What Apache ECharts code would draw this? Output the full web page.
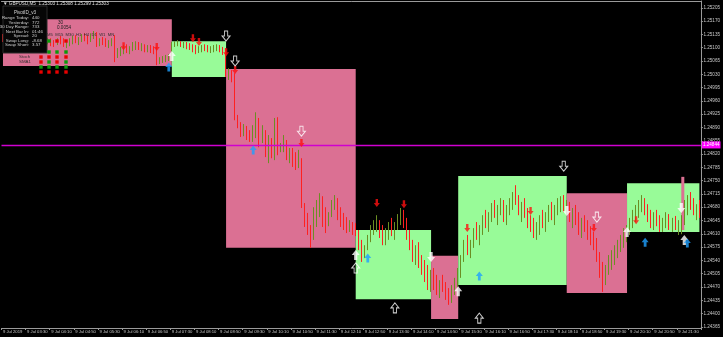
<!DOCTYPE html>
<html><head><meta charset="utf-8">
<script src="https://cdn.jsdelivr.net/npm/echarts@6.0.0/dist/echarts.min.js"></script>
<style>html,body{margin:0;padding:0;background:#000;}#c{width:723px;height:337px;}</style>
</head><body><div id="c"></div>
<script>
// ---------- data ----------
const timeLabels = ['9 Jul 2019','9 Jul 03:30','9 Jul 04:10','9 Jul 04:50','9 Jul 05:30','9 Jul 06:10','9 Jul 06:50','9 Jul 07:30','9 Jul 08:10','9 Jul 08:50','9 Jul 09:30','9 Jul 10:10','9 Jul 10:50','9 Jul 11:30','9 Jul 12:10','9 Jul 12:50','9 Jul 13:30','9 Jul 14:10','9 Jul 14:50','9 Jul 15:30','9 Jul 16:10','9 Jul 16:50','9 Jul 17:30','9 Jul 18:10','9 Jul 18:50','9 Jul 19:30','9 Jul 20:10','9 Jul 20:50','9 Jul 21:30'];
const priceTicks = [1.24365,1.24400,1.24435,1.24470,1.24505,1.24540,1.24575,1.24610,1.24645,1.24680,1.24715,1.24750,1.24785,1.24820,1.24855,1.24890,1.24925,1.24960,1.24995,1.25030,1.25065,1.25100,1.25135,1.25170,1.25205];
const yMin = 1.24362, yMax = 1.25223;
const currentPrice = 1.24844;
const firstOpen = 1.25130;
const closes = [1.25125,1.25131,1.25120,1.25115,1.25123,1.25133,1.25138,1.25128,1.25120,1.25112,1.25117,1.25125,1.25131,1.25123,1.25115,1.25120,
1.25115,1.25109,1.25120,1.25117,1.25112,1.25115,1.25120,1.25125,1.25117,1.25123,1.25131,1.25125,1.25120,1.25133,1.25136,1.25109,1.25120,1.25115,1.25109,1.25115,1.25117,
1.25081,1.25088,1.25094,1.25099,1.25094,1.25102,1.25107,1.25109,1.25104,1.25107,1.25099,1.25102,1.25096,1.25094,1.25062,1.25067,1.25073,1.25075,1.25078,
1.25109,1.25112,1.25115,1.25109,1.25112,1.25107,1.25104,1.25096,1.25094,1.25099,1.25102,1.25099,1.25096,1.25099,1.25102,1.25104,1.25094,1.25088,1.25031,1.25036,1.25025,
1.24915,1.24896,1.24883,1.24891,1.24873,1.24867,1.24888,1.24915,1.24857,1.24883,1.24831,1.24857,1.24825,1.24896,1.24836,1.24841,1.24857,1.24817,1.24831,1.24804,1.24796,1.24799,
1.24686,1.24641,1.24620,1.24599,1.24667,1.24686,1.24704,1.24646,1.24630,1.24662,1.24688,1.24699,1.24662,1.24641,1.24630,1.24620,1.24636,1.24625,1.24620,
1.24580,1.24554,1.24573,1.24599,1.24620,1.24625,1.24633,1.24612,1.24599,1.24615,1.24630,1.24620,1.24633,1.24652,1.24667,1.24641,1.24607,1.24580,1.24554,1.24567,1.24536,1.24520,1.24502,1.24480,1.24494,
1.24475,1.24462,1.24478,1.24467,1.24446,1.24436,1.24462,1.24483,1.24509,
1.24546,1.24580,1.24567,1.24588,1.24615,1.24604,1.24625,1.24646,1.24636,1.24659,1.24678,1.24667,1.24673,1.24686,1.24659,1.24678,1.24699,1.24709,1.24699,1.24673,1.24686,1.24662,1.24646,1.24641,1.24620,1.24630,1.24652,1.24641,1.24659,1.24673,1.24662,1.24678,1.24688,1.24699,1.24683,1.24688,
1.24659,1.24667,1.24646,1.24625,1.24641,1.24630,1.24615,1.24599,1.24588,1.24546,1.24509,1.24488,1.24520,1.24536,1.24552,1.24567,1.24583,1.24594,1.24615,1.24625,
1.24641,1.24662,1.24673,1.24683,1.24699,1.24678,1.24659,1.24646,1.24657,1.24641,1.24633,1.24641,1.24652,1.24633,1.24636,1.24625,1.24630,1.24646,1.24686,1.24699,1.24686,1.24673,1.24678,1.24667];
const highs = [1.25136,1.25138,1.25133,1.25125,1.25128,1.25138,1.25144,1.25141,1.25131,1.25125,1.25123,1.25131,1.25136,1.25133,1.25128,1.25125,
1.25125,1.25120,1.25125,1.25131,1.25125,1.25120,1.25125,1.25131,1.25133,1.25128,1.25136,1.25138,1.25133,1.25138,1.25144,1.25141,1.25125,1.25128,1.25125,1.25120,1.25125,
1.25133,1.25099,1.25102,1.25107,1.25109,1.25104,1.25115,1.25117,1.25115,1.25112,1.25109,1.25107,1.25107,1.25104,1.25102,1.25075,1.25078,1.25081,1.25083,
1.25115,1.25117,1.25120,1.25117,1.25115,1.25115,1.25112,1.25109,1.25107,1.25104,1.25107,1.25109,1.25107,1.25104,1.25107,1.25109,1.25107,1.25102,1.25099,1.25046,1.25041,
1.25033,1.24923,1.24904,1.24899,1.24894,1.24883,1.24896,1.24930,1.24915,1.24896,1.24883,1.24870,1.24862,1.24915,1.24917,1.24849,1.24870,1.24857,1.24836,1.24836,1.24825,1.24831,
1.24809,1.24691,1.24665,1.24633,1.24680,1.24699,1.24717,1.24709,1.24680,1.24667,1.24699,1.24712,1.24704,1.24680,1.24665,1.24654,1.24646,1.24641,1.24638,
1.24615,1.24594,1.24580,1.24607,1.24633,1.24646,1.24659,1.24646,1.24633,1.24625,1.24641,1.24652,1.24641,1.24662,1.24678,1.24673,1.24652,1.24620,1.24594,1.24580,1.24588,1.24554,1.24541,1.24528,1.24515,
1.24520,1.24502,1.24488,1.24502,1.24483,1.24467,1.24475,1.24494,1.24520,
1.24554,1.24594,1.24607,1.24594,1.24625,1.24641,1.24633,1.24659,1.24673,1.24667,1.24691,1.24699,1.24686,1.24704,1.24699,1.24686,1.24704,1.24720,1.24738,1.24712,1.24694,1.24704,1.24678,1.24659,1.24652,1.24641,1.24659,1.24673,1.24667,1.24686,1.24694,1.24686,1.24704,1.24709,1.24712,1.24699,
1.24694,1.24678,1.24686,1.24667,1.24652,1.24659,1.24646,1.24630,1.24615,1.24599,1.24562,1.24536,1.24528,1.24554,1.24567,1.24580,1.24594,1.24607,1.24625,1.24633,
1.24652,1.24673,1.24686,1.24699,1.24712,1.24704,1.24688,1.24673,1.24667,1.24673,1.24659,1.24652,1.24667,1.24662,1.24652,1.24657,1.24646,1.24659,1.24699,1.24712,1.24720,1.24704,1.24688,1.24699];
const lows = [1.25115,1.25120,1.25115,1.25107,1.25109,1.25120,1.25128,1.25123,1.25115,1.25107,1.25107,1.25115,1.25120,1.25117,1.25109,1.25109,
1.25104,1.25102,1.25107,1.25109,1.25102,1.25099,1.25104,1.25109,1.25112,1.25107,1.25115,1.25117,1.25109,1.25115,1.25123,1.25102,1.25104,1.25107,1.25102,1.25099,1.25104,
1.25062,1.25073,1.25078,1.25083,1.25086,1.25083,1.25091,1.25094,1.25094,1.25091,1.25088,1.25088,1.25086,1.25083,1.25054,1.25057,1.25060,1.25062,1.25065,
1.25067,1.25102,1.25104,1.25102,1.25099,1.25096,1.25094,1.25088,1.25083,1.25086,1.25088,1.25091,1.25088,1.25086,1.25088,1.25091,1.25088,1.25081,1.25023,1.25015,1.25009,
1.24909,1.24888,1.24865,1.24867,1.24857,1.24852,1.24852,1.24862,1.24838,1.24849,1.24812,1.24796,1.24809,1.24804,1.24817,1.24825,1.24825,1.24804,1.24796,1.24786,1.24778,1.24783,
1.24678,1.24628,1.24607,1.24573,1.24594,1.24628,1.24654,1.24628,1.24612,1.24633,1.24654,1.24673,1.24646,1.24628,1.24620,1.24612,1.24615,1.24607,1.24604,
1.24567,1.24536,1.24546,1.24567,1.24588,1.24607,1.24615,1.24599,1.24580,1.24580,1.24594,1.24604,1.24594,1.24620,1.24633,1.24625,1.24594,1.24567,1.24536,1.24528,1.24520,1.24502,1.24483,1.24462,1.24457,
1.24462,1.24449,1.24441,1.24457,1.24436,1.24423,1.24428,1.24449,1.24467,
1.24494,1.24536,1.24554,1.24546,1.24573,1.24594,1.24580,1.24607,1.24625,1.24615,1.24641,1.24652,1.24633,1.24659,1.24641,1.24633,1.24659,1.24673,1.24686,1.24659,1.24641,1.24652,1.24625,1.24615,1.24599,1.24594,1.24607,1.24625,1.24615,1.24641,1.24646,1.24633,1.24659,1.24667,1.24667,1.24659,
1.24641,1.24625,1.24633,1.24607,1.24599,1.24615,1.24594,1.24580,1.24567,1.24536,1.24494,1.24457,1.24475,1.24502,1.24515,1.24528,1.24546,1.24562,1.24573,1.24588,
1.24607,1.24625,1.24641,1.24652,1.24667,1.24659,1.24641,1.24625,1.24620,1.24630,1.24615,1.24615,1.24625,1.24620,1.24615,1.24620,1.24607,1.24609,1.24633,1.24659,1.24673,1.24659,1.24646,1.24652];

// range boxes: start bar, end bar, top price, bottom price, type
const boxStart = [0, 56, 74, 117, 142, 151, 187, 207, 225];
const boxEnd   = [56, 74, 117, 142, 151, 187, 207, 231, 226];
const boxHigh  = [1.25175, 1.25117, 1.25044, 1.24620, 1.24552, 1.24762, 1.24717, 1.24743, 1.24760];
const boxLow   = [1.25052, 1.25023, 1.24573, 1.24438, 1.24386, 1.24475, 1.24454, 1.24615, 1.24620];
const boxType  = ['bear','bull','bear','bull','bear','bull','bear','bull','bear'];

// signal arrows: [bar, price]
const redDown = [[40,1.25104],[51,1.25102],[63,1.25125],[65,1.25115],[74,1.25088],[77,1.25041],[99,1.24849],[124,1.24691],[133,1.24688],[154,1.24625],[175,1.24670],[196,1.24625],[210,1.24646]];
const hollowDown = [[74,1.25131],[77,1.25065],[99,1.24880],[186,1.24788],[197,1.24654]];
const whiteDown = [[142,1.24549],[187,1.24670],[225,1.24678]];
const whiteUp = [[56,1.25078],[117,1.24554],[151,1.24459],[207,1.24615],[226,1.24594]];
const blueUp = [[55,1.25049],[83,1.24831],[121,1.24546],[158,1.24499],[213,1.24588],[227,1.24586]];
const hollowUp = [[117,1.24520],[130,1.24415],[158,1.24388]];

const infoLabels = ['Range Today:','Yesterday:','30 Day Range:','Next Bar In:','Spread:','Swap Long:','Swap Short:'];
const infoValues = ['440','772','733','01:46','20','-8.68','3.57'];
const signalRows = ['.grr', '.ggg', 'rrrr', 'rgrg', 'gggg', 'rrrr'];

// ---------- chart ----------
const upColor = '#6b8e23', downColor = '#ff2020';
const bearFill = '#db7093', bullFill = '#98fb98';
const axisColor = '#9a9a9a', textColor = '#c8c8c8';
const FONT = '"Liberation Sans", Arial, sans-serif';

const cats = closes.map((_, i) => i);
const candleData = closes.map((c, i) => {
  const o = i === 0 ? firstOpen : closes[i - 1];
  return [o, c, Math.min(lows[i], o, c), Math.max(highs[i], o, c)];
});
const boxData = boxStart.map((s, i) => [s, boxEnd[i], boxHigh[i], boxLow[i], boxType[i] === 'bull' ? 1 : 0]);

const downPath = 'path://M3,0L7,0L7,6L10,6L5,12L0,6L3,6Z';
const upPath = 'path://M5,0L10,6L7,6L7,12L3,12L3,6L0,6Z';

function arrowSeries(data, path, size, style, extra) {
  return Object.assign({ type: 'scatter', data: data, symbol: path, symbolSize: size, itemStyle: style, z: 6, silent: true, animation: false }, extra || {});
}

const graphics = [];
graphics.push({ type: 'text', x: 3, y: 4, z: 200, style: { text: '\u25BC GBPUSD,M5  1.25303 1.25308 1.25299 1.25303', fill: '#e0e0e0', font: '4.6px ' + FONT, verticalAlign: 'middle' } });
graphics.push({ type: 'rect', z: 150, shape: { x: 3, y: 6, width: 44, height: 47 }, style: { fill: '#060606', stroke: '#2a2a2a', lineWidth: 1 } });
graphics.push({ type: 'text', x: 25, y: 12.5, z: 200, style: { text: 'PivotID_v3', fill: '#d8d8d8', font: '4.6px ' + FONT, align: 'center', verticalAlign: 'middle' } });
infoLabels.forEach((t, i) => {
  graphics.push({ type: 'text', x: 29, y: 18 + i * 4.5, z: 200, style: { text: t, fill: '#d0d0d0', font: '4.4px ' + FONT, align: 'right', verticalAlign: 'middle' } });
  graphics.push({ type: 'text', x: 32, y: 18 + i * 4.5, z: 200, style: { text: infoValues[i], fill: '#d0d0d0', font: '4.4px ' + FONT, align: 'left', verticalAlign: 'middle' } });
});
graphics.push({ type: 'text', x: 58, y: 23, z: 200, style: { text: '30', fill: '#202020', font: '4.6px ' + FONT, verticalAlign: 'middle' } });
graphics.push({ type: 'text', x: 57, y: 28, z: 200, style: { text: '0.0054', fill: '#202020', font: '4.6px ' + FONT, verticalAlign: 'middle' } });
graphics.push({ type: 'text', x: 47, y: 35, z: 200, style: { text: 'M5  M15  M30  H1  H4  D1  W1  MN', fill: '#303030', font: '4.2px ' + FONT, verticalAlign: 'middle' } });
graphics.push({ type: 'text', x: 19, y: 57, z: 200, style: { text: 'Stoch', fill: '#303030', font: '4.4px ' + FONT, verticalAlign: 'middle' } });
graphics.push({ type: 'text', x: 19, y: 62, z: 200, style: { text: 'SMA1', fill: '#303030', font: '4.4px ' + FONT, verticalAlign: 'middle' } });
const rowY = [41, 52, 57, 62, 67, 72], colX = [41, 49, 57, 66];
signalRows.forEach((row, r) => {
  row.split('').forEach((ch, c) => {
    if (ch === '.') return;
    graphics.push({ type: 'rect', z: 200, shape: { x: colX[c] - 1.7, y: rowY[r] - 1.7, width: 3.4, height: 3.4 }, style: { fill: ch === 'g' ? '#0a9a0a' : '#e80000' } });
  });
});

const priceLine = {
  silent: true, symbol: 'none', animation: false, precision: 5,
  lineStyle: { color: '#d000d0', width: 1.3, type: 'solid', opacity: 1 },
  emphasis: { disabled: true },
  label: { show: true, position: 'end', formatter: () => currentPrice.toFixed(5), color: '#ffffff', backgroundColor: '#ff00ff', fontSize: 4.6, fontFamily: FONT, padding: [1, 1], distance: 1 },
  data: [{ yAxis: currentPrice, lineStyle: { color: '#d000d0', width: 1.3 } }]
};

const chart = echarts.init(document.getElementById('c'), null, { renderer: 'canvas' });
chart.setOption({
  backgroundColor: '#000',
  animation: false,
  grid: { left: 0, right: 18, top: 1, bottom: 9 },
  xAxis: [{
    type: 'category', data: cats, boundaryGap: true,
    axisLine: { lineStyle: { color: axisColor, width: 1 } },
    axisTick: { show: true, interval: (i) => i % 8 === 0, length: 2, lineStyle: { color: axisColor } },
    axisLabel: { interval: (i) => i % 8 === 0, formatter: (v, i) => timeLabels[i / 8], color: textColor, fontSize: 4.2, fontFamily: FONT, align: 'left', margin: 2 },
    splitLine: { show: false }
  }, {
    type: 'category', data: cats, position: 'top', boundaryGap: true,
    axisLine: { lineStyle: { color: axisColor } }, axisTick: { show: false }, axisLabel: { show: false }, splitLine: { show: false }
  }],
  yAxis: {
    type: 'value', position: 'right', min: yMin, max: yMax,
    axisLine: { show: true, lineStyle: { color: axisColor } },
    axisTick: { show: true, customValues: priceTicks, length: 2, lineStyle: { color: axisColor } },
    axisLabel: { customValues: priceTicks, formatter: (v) => v.toFixed(5), color: textColor, fontSize: 4.6, fontFamily: FONT, margin: 2.5 },
    splitLine: { show: false }
  },
  series: [
    {
      type: 'custom', silent: true, z: 1,
      data: boxData, encode: { x: [0, 1], y: [2, 3] },
      renderItem: (params, api) => {
        const a = api.coord([api.value(0), api.value(2)]);
        const b = api.coord([api.value(1), api.value(3)]);
        return { type: 'rect', shape: { x: a[0], y: a[1], width: b[0] - a[0], height: b[1] - a[1] }, style: { fill: api.value(4) ? bullFill : bearFill } };
      }
    },
    {
      type: 'candlestick', data: candleData, barWidth: 1, z: 3, silent: true,
      itemStyle: { color: upColor, color0: downColor, borderColor: upColor, borderColor0: downColor, borderWidth: 1 }
    },
    arrowSeries(redDown, downPath, [6, 8], { color: '#ff1010' }, { markLine: priceLine }),
    arrowSeries(hollowDown, downPath, [8, 10], { color: 'rgba(0,0,0,0)', borderColor: '#ffffff', borderWidth: 1 }),
    arrowSeries(whiteDown, downPath, [8, 10], { color: '#ffffff' }),
    arrowSeries(whiteUp, upPath, [8, 10], { color: '#ffffff' }),
    arrowSeries(blueUp, upPath, [7, 9], { color: '#1ea0ff' }),
    arrowSeries(hollowUp, upPath, [8, 10], { color: 'rgba(0,0,0,0)', borderColor: '#ffffff', borderWidth: 1 })
  ],
  graphic: graphics
});
</script>
</body></html>
